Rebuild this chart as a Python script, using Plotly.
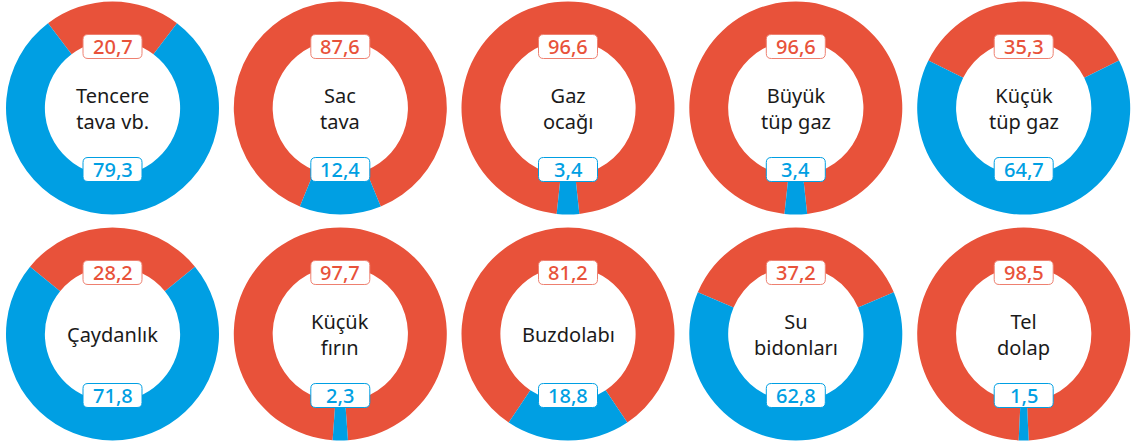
import plotly.graph_objects as go

# Survey items and the share of each answer (percent)
items = [
    "Tencere<br>tava vb.", "Sac<br>tava", "Gaz<br>ocağı", "Büyük<br>tüp gaz", "Küçük<br>tüp gaz",
    "Çaydanlık", "Küçük<br>fırın", "Buzdolabı", "Su<br>bidonları", "Tel<br>dolap",
]
red_share = [20.7, 87.6, 96.6, 96.6, 35.3, 28.2, 97.7, 81.2, 37.2, 98.5]
blue_share = [79.3, 12.4, 3.4, 3.4, 64.7, 71.8, 2.3, 18.8, 62.8, 1.5]

RED = "#E8523A"
BLUE = "#009FE3"
RED_BORDER = "#EE8070"
W, H = 1133, 444
FONT = "Noto Sans"

# Layout grid (pixels)
col_x = [112.5, 340.3, 568.0, 795.8, 1023.7]
row_y = [108.0, 334.0]
R = 106.5
HOLE = 0.635
BOX_W, BOX_H, BOX_R = 59, 24, 5
BOX_DY = 61.5


def fmt(v):
    return f"{v:.1f}".replace(".", ",")


def rounded_rect(cx, cy, w, h, r):
    x0, x1 = cx - w / 2, cx + w / 2
    y0, y1 = cy - h / 2, cy + h / 2
    return (
        f"M {x0 + r},{y0} L {x1 - r},{y0} Q {x1},{y0} {x1},{y0 + r} "
        f"L {x1},{y1 - r} Q {x1},{y1} {x1 - r},{y1} "
        f"L {x0 + r},{y1} Q {x0},{y1} {x0},{y1 - r} "
        f"L {x0},{y0 + r} Q {x0},{y0} {x0 + r},{y0} Z"
    )


fig = go.Figure()
shapes = []
annotations = []

for i, name in enumerate(items):
    cx = col_x[i % 5]
    cy = row_y[i // 5]
    r_val, b_val = red_share[i], blue_share[i]
    fig.add_trace(go.Pie(
        values=[r_val, b_val],
        labels=["a", "b"],
        marker=dict(colors=[RED, BLUE], line=dict(width=0)),
        hole=HOLE,
        sort=False,
        direction="clockwise",
        rotation=-180 * r_val / (r_val + b_val),
        textinfo="none",
        hoverinfo="skip",
        showlegend=False,
        domain=dict(
            x=[(cx - R) / W, (cx + R) / W],
            y=[1 - (cy + R) / H, 1 - (cy - R) / H],
        ),
    ))

    for val, dy, col, border in ((r_val, -BOX_DY, RED, RED_BORDER), (b_val, BOX_DY, BLUE, BLUE)):
        shapes.append(dict(
            type="path", xref="x", yref="y", layer="above",
            path=rounded_rect(cx, cy + dy, BOX_W, BOX_H, BOX_R),
            fillcolor="white", line=dict(color=border, width=1),
        ))
        annotations.append(dict(
            x=cx, y=cy + dy, xref="x", yref="y", text=fmt(val), showarrow=False,
            font=dict(family=FONT, size=20, color=col, weight=500),
            xanchor="center", yanchor="middle",
        ))

    annotations.append(dict(
        x=cx, y=cy, xref="x", yref="y", text=name, showarrow=False,
        font=dict(family=FONT, size=20, color="#1a1a1a"),
        xanchor="center", yanchor="middle",
    ))

fig.update_layout(
    width=W, height=H,
    margin=dict(l=0, r=0, t=0, b=0),
    paper_bgcolor="white", plot_bgcolor="rgba(0,0,0,0)",
    xaxis=dict(range=[0, W], visible=False, fixedrange=True),
    yaxis=dict(range=[H, 0], visible=False, fixedrange=True),
    shapes=shapes,
    annotations=annotations,
)

fig.write_html("out.html", config={"displayModeBar": False})
